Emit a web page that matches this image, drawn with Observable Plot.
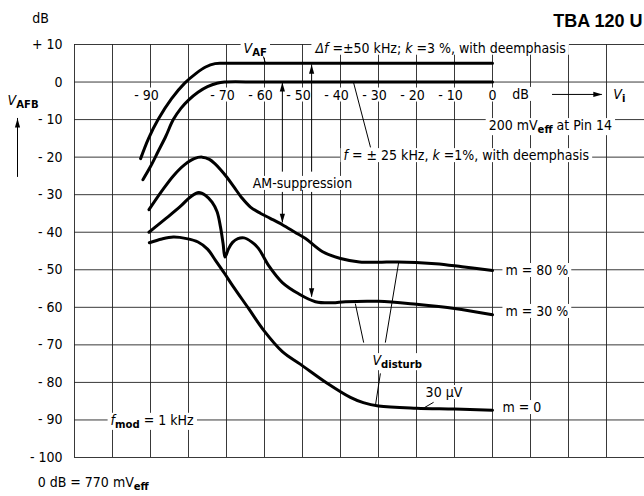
<!DOCTYPE html>
<html><head><meta charset="utf-8">
<script src="https://cdn.jsdelivr.net/npm/d3@7"></script>
<script src="https://cdn.jsdelivr.net/npm/@observablehq/plot@0.6"></script>
<style>
html,body{margin:0;padding:0;background:#fff;}
</style>
</head><body><div id="chart"></div>
<script>
const FONT = '"DejaVu Sans Condensed","Liberation Sans Narrow","DejaVu Sans",sans-serif';

// grid / tick values
const xGrid = [-110,-100,-90,-80,-70,-60,-50,-40,-30,-20,-10,0,10,20,30,40];
const yGrid = [10,0,-10,-20,-30,-40,-50,-60,-70,-80,-90,-100];
const xTickLabels = [-90,-70,-60,-50,-40,-30,-20,-10];
const xZeroLabel = [0];

// curves (x = V_i in dB, y = V_AFB in dB)
const df50X = [-92.6,-90.5,-88,-84.5,-81,-78,-75.5,-73,-71,-60,0];
const df50Y = [-20.4,-15,-10,-4.5,-0.3,2.3,4,4.9,5,5,5];
const df25X = [-92,-90,-88,-86,-84,-82,-80,-77.5,-75,-72.5,-70.5,-60,0];
const df25Y = [-26,-22.5,-18.5,-14.5,-10,-7,-4.8,-2.7,-1.2,-0.3,0,0,0];
const m80X = [-90.4,-87,-84,-81,-78.5,-76.4,-74.5,-73,-71.6,-69.8,-68,-66,-63.7,-61,-58.5,-55.3,-52,-49.2,-44.7,-40,-35,-30,-25,-15,-8,0];
const m80Y = [-34,-29,-25,-22,-20.4,-20,-20.6,-21.8,-23.3,-25.5,-28,-30.8,-33.3,-35,-36.3,-38,-40,-41.7,-45.2,-47,-47.9,-48,-47.9,-48.4,-49.2,-50.2];
const m30X = [-90.4,-86,-82,-79.5,-77.3,-75.5,-73.8,-72.5,-71.6,-70.9,-70.4,-69.5,-68.4,-67,-65.4,-63.5,-61.6,-58.9,-55.3,-51,-46.6,-42.1,-38.7,-30,-20,-10,0];
const m30Y = [-40,-36.4,-33,-30.6,-29.4,-30.2,-32,-34.5,-38.5,-43,-46.6,-44.5,-42.7,-41.7,-41.5,-42.5,-44.3,-48.9,-53.4,-56.4,-58.5,-58.8,-58.5,-58.4,-59.2,-60.3,-62];
const m0X = [-90.3,-87,-84,-80.5,-77.5,-75,-72.9,-70.5,-68.4,-64.2,-60.3,-55.3,-50.5,-43.4,-37.4,-34,-30,-20,-10,0];
const m0Y = [-42.8,-41.8,-41.3,-41.7,-42.6,-44.5,-47.5,-51,-54.2,-60.3,-66,-71.8,-75.2,-80.3,-84,-85.4,-86.3,-86.9,-87.1,-87.4];

// annotation texts
const annText = ["*V*_{AF}", "*Δf* =±50 kHz; *k* =3 %, with deemphasis", "*f* = ± 25 kHz, *k* =1%, with deemphasis",
  "200 mV_{eff} at Pin 14", "dB", "*V*_{i}", "AM-suppression", "m = 80 %", "m = 30 %", "m = 0",
  "*V*_{disturb}", "30 µV", "*f*_{mod} = 1 kHz", "dB", "*V*_{AFB}", "0 dB = 770 mV_{eff}"];
const annX = [-65.5, -46.6, -39.2, -1.0, 7.4, 31.8, -50, 3.4, 3.4, 2.6, -31.6, -17.6, -100.5, -118.9, -127.6, -119.7];
const annY = [9, 9, -19.6, -11.6, -3.3, -3.3, -27, -50.2, -61.1, -86.7, -74.2, -82.7, -90.1, 16.9, -4.9, -106.6];
const annAnchor = ["start","start","start","start","middle","start","middle","start","start","start","start","start","start","middle","start","start"];

// leader lines
const leadX1 = [-36.6, -33.9, -28.2, -29.5, -15.5, -60.3];
const leadY1 = [0, -69.4, -69.4, -77.6, -85.3, 6.8];
const leadX2 = [-32.1, -36.1, -24.7, -30.8, -17.9, -59.8];
const leadY2 = [-17.4, -59, -48.1, -86.1, -86.7, 5.2];

// arrows: x, start y, tip y, direction
const arrX = [-55.3, -47.6, -55.3, -47.6, -125];
const arrFrom = [-24, -24, -29.4, -29.4, -25.4];
const arrTip = [-0.1, 4.6, -37.5, -57.3, -9.7];
const arrDir = [0, 0, 180, 180, 0];
// horizontal arrow dB -> V_i
const hArrX1 = [15.8], hArrX2 = [28.9], hArrY = [-3.3];

const series = [
  ["df50", df50X, df50Y], ["df25", df25X, df25Y], ["m80", m80X, m80Y], ["m30", m30X, m30Y], ["m0", m0X, m0Y]
].flatMap(([name, xs, ys]) => xs.map((x, i) => ({name, x, y: ys[i]})));
const ann = annText.map((t, i) => ({t, x: annX[i], y: annY[i], a: annAnchor[i]}));
const leads = leadX1.map((x1, i) => ({x1, y1: leadY1[i], x2: leadX2[i], y2: leadY2[i]}));
const arrows = arrX.map((x, i) => ({x, y1: arrFrom[i], y2: arrTip[i], r: arrDir[i]}));
const hArrows = hArrX1.map((x1, i) => ({x1, x2: hArrX2[i], y: hArrY[i]}));

const head = {draw(ctx) { ctx.moveTo(0, 0); ctx.lineTo(-2.6, 9); ctx.lineTo(2.6, 9); ctx.closePath(); }};
const txt = {fill: "black", fontFamily: FONT, fontSize: 14};

const chart = Plot.plot({
  width: 644, height: 496,
  marginLeft: 74, marginRight: 0, marginTop: 44, marginBottom: 39,
  style: {fontFamily: FONT, fontSize: "14px", background: "white", color: "black", overflow: "visible"},
  x: {domain: [-110, 40], axis: null},
  y: {domain: [-100, 10], axis: null},
  marks: [
    Plot.ruleX(xGrid, {stroke: "#222", strokeWidth: 0.9}),
    Plot.ruleY(yGrid, {stroke: "#222", strokeWidth: 0.9}),
    Plot.axisY({ticks: yGrid, tickSize: 0, tickPadding: 12, fontSize: 14, label: null,
      tickFormat: d => d > 0 ? "+ " + d : d < 0 ? "- " + (-d) : "0"}),
    Plot.text(xTickLabels, {x: d => d, y: 0, dy: 13, dx: -4, text: d => "- " + (-d), ...txt}),
    Plot.text(xZeroLabel, {x: d => d, y: 0, dy: 13, text: d => String(d), ...txt}),
    Plot.text(ann, {x: "x", y: "y", text: "t", textAnchor: "start", filter: d => d.a === "start", ...txt}),
    Plot.text(ann, {x: "x", y: "y", text: "t", textAnchor: "middle", filter: d => d.a === "middle", ...txt}),
    Plot.ruleX(arrows, {x: "x", y1: "y1", y2: "y2", stroke: "black", strokeWidth: 1}),
    Plot.dot(arrows, {x: "x", y: "y2", rotate: "r", symbol: head, r: 4, fill: "black", stroke: "none"}),
    Plot.ruleY(hArrows, {y: "y", x1: "x1", x2: "x2", stroke: "black", strokeWidth: 1}),
    Plot.dot(hArrows, {x: "x2", y: "y", rotate: 90, symbol: head, r: 4, fill: "black", stroke: "none"}),
    Plot.link(leads, {x1: "x1", y1: "y1", x2: "x2", y2: "y2", stroke: "black", strokeWidth: 1}),
    Plot.line(series, {x: "x", y: "y", z: "name", curve: "catmull-rom", stroke: "black", strokeWidth: 3, strokeLinejoin: "round"}),
    Plot.text(["TBA 120 U"], {frameAnchor: "top-right", dx: -2, dy: -30, textAnchor: "end",
      fontFamily: '"Liberation Sans",Arial,sans-serif', fontWeight: "bold", fontSize: 18, fill: "black"})
  ]
});

// subscripts / italics markup -> tspans
const NS = "http://www.w3.org/2000/svg";
chart.querySelectorAll("text").forEach(t => {
  const targets = t.querySelector("tspan") ? [...t.querySelectorAll("tspan")] : [t];
  targets.forEach(el => {
    const s = el.textContent;
    if (!/(_\{|\*)/.test(s)) return;
    el.textContent = "";
    s.split(/(_\{[^}]*\}|\*[^*]*\*)/).forEach(p => {
      if (!p) return;
      const ts = document.createElementNS(NS, "tspan");
      if (p.startsWith("_{")) {
        ts.textContent = p.slice(2, -1);
        ts.setAttribute("baseline-shift", "-28%");
        ts.setAttribute("font-size", "80%");
        ts.setAttribute("font-weight", "bold");
      } else if (p.startsWith("*")) {
        ts.textContent = p.slice(1, -1);
        ts.setAttribute("font-style", "italic");
      } else ts.textContent = p;
      el.appendChild(ts);
    });
  });
});
document.getElementById("chart").appendChild(chart);

// white boxes behind annotation texts so grid lines break around them (as in the original)
chart.querySelectorAll('g[aria-label="text"] text').forEach(t => {
  if (t.textContent === "TBA 120 U") return;
  const b = t.getBBox();
  const r = document.createElementNS(NS, "rect");
  r.setAttribute("x", b.x - 3);
  r.setAttribute("y", b.y + 1);
  r.setAttribute("width", b.width + 6);
  r.setAttribute("height", Math.max(0, b.height - 2));
  r.setAttribute("fill", "white");
  const tr = t.getAttribute("transform");
  if (tr) r.setAttribute("transform", tr);
  t.parentNode.insertBefore(r, t);
});
</script>
</body></html>
